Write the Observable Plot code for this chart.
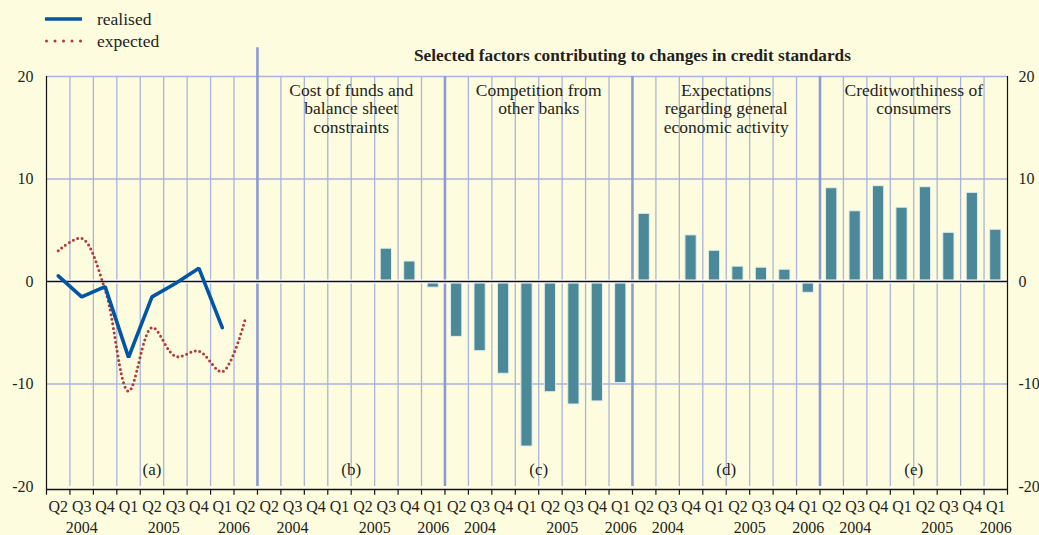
<!DOCTYPE html>
<html><head><meta charset="utf-8">
<script src="https://cdn.jsdelivr.net/npm/d3@7"></script>
<script src="https://cdn.jsdelivr.net/npm/@observablehq/plot@0.6"></script>
<style>
body{margin:0;background:#fefcdf;font-family:"Liberation Serif","Times New Roman",serif;}
#wrap{position:relative;width:1039px;height:535px;overflow:hidden;}
#legend{position:absolute;left:45px;top:8px;font-size:17.5px;color:#231f20;z-index:2;}
.row{display:flex;align-items:center;height:22px;}
.row svg{margin-right:15px;display:block;}
</style></head><body>
<div id="wrap"><div id="legend"></div><div id="chart"></div></div>
<script>
// ---- data ----
const panelAQuarters = ["Q2","Q3","Q4","Q1","Q2","Q3","Q4","Q1","Q2"];
const panelAYears    = [2004,2004,2004,2005,2005,2005,2005,2006,2006];
const barQuarters    = ["Q2","Q3","Q4","Q1","Q2","Q3","Q4","Q1"];
const barYears       = [2004,2004,2004,2005,2005,2005,2005,2006];

const realised = [0.55,-1.5,-0.5,-7.4,-1.5,-0.2,1.3,-4.5];
const expected = [3.0,4.2,-0.8,-10.7,-4.5,-7.3,-6.8,-8.8,-3.5];

const costOfFunds      = [0,0,0.1,0,0,3.2,1.95,-0.6];
const competition      = [-5.4,-6.8,-9.0,-16.1,-10.8,-12.0,-11.7,-9.9];
const expectations     = [6.6,0.05,4.5,3.0,1.45,1.35,1.15,-1.1];
const creditworthiness = [9.1,6.85,9.3,7.2,9.2,4.75,8.65,5.05];

const panelTitles = [
  "Cost of funds and\nbalance sheet\nconstraints",
  "Competition from\nother banks",
  "Expectations\nregarding general\neconomic activity",
  "Creditworthiness of\nconsumers"
];
const panelLetters = ["(a)","(b)","(c)","(d)","(e)"];
const yTicks = [-20,-10,0,10,20];
const chartTitle = "Selected factors contributing to changes in credit standards";
const seriesNames = ["realised","expected"];

// ---- structure ----
const barSeries = [costOfFunds, competition, expectations, creditworthiness];
const nA = panelAQuarters.length, nB = barQuarters.length;
const offsets = [0, ...barSeries.map((_, k) => nA + nB * k)];
const total = nA + nB * barSeries.length;

const quarterItems = [
  ...panelAQuarters.map((q, i) => ({x: i + 0.5, label: q, year: panelAYears[i], panel: 0})),
  ...barSeries.flatMap((_, k) => barQuarters.map((q, i) => ({x: offsets[k+1] + i + 0.5, label: q, year: barYears[i], panel: k+1})))
];
const yearItems = d3.rollups(quarterItems, v => d3.mean(v, d => d.x), d => d.panel, d => d.year)
  .flatMap(([p, ys]) => ys.map(([year, x]) => ({x, label: String(year)})));

const bars = barSeries.flatMap((vals, k) => vals.map((v, i) => ({x: offsets[k+1] + i, v}))).filter(d => d.v !== 0);
const realisedData = realised.map((v, i) => ({x: i + 0.5, v}));
const expectedData = expected.map((v, i) => ({x: i + 0.5, v}));

const separators = offsets.slice(1);
const gridX = d3.range(1, total).filter(i => !separators.includes(i));
const boundaries = d3.range(0, total + 1);
const panelCenters = [nA / 2, ...barSeries.map((_, k) => offsets[k+1] + nB / 2)];
const titleItems = panelTitles.map((t, k) => ({x: panelCenters[k+1], t}));
const letterItems = panelLetters.map((t, k) => ({x: panelCenters[k], t}));
const barGroupCenter = (offsets[1] + total) / 2;

const textColor = "#231f20";
const grid = "#a9b4dc";

const chart = Plot.plot({
  width: 1039, height: 535,
  marginLeft: 46, marginRight: 32, marginTop: 76, marginBottom: 49,
  x: {domain: [0, total], axis: null},
  y: {domain: [-20, 20], axis: null},
  style: {fontFamily: "'Liberation Serif', 'Times New Roman', serif", fontSize: "16px", background: "transparent", color: textColor, overflow: "visible"},
  marks: [
    Plot.ruleY([-10, 10, 20], {stroke: grid, strokeWidth: 1.5}),
    Plot.ruleX(gridX, {stroke: grid, strokeWidth: 1.3}),
    Plot.ruleX(separators, {x: d => d, y1: -20, y2: d => d === separators[0] ? 22.8 : 20, stroke: "#8c9bd3", strokeWidth: 2.6}),
    Plot.rect(bars, {x1: d => d.x + 0.26, x2: d => d.x + 0.74, y1: 0, y2: "v", fill: "#4b8898", stroke: "#e4edf0", strokeWidth: 1}),
    Plot.ruleY([0], {stroke: "white", strokeWidth: 4}),
    Plot.ruleY([0], {stroke: "#111", strokeWidth: 1.5}),
    Plot.ruleX([0], {y1: -20.3, y2: 20, stroke: "#111", strokeWidth: 1.2}),
    Plot.ruleX([total], {y1: -20.3, y2: 20, stroke: "#111", strokeWidth: 1.2}),
    Plot.ruleY([-20], {dy: 3, stroke: "#111", strokeWidth: 1.3}),
    Plot.ruleX(boundaries, {y1: -20.3, y2: -20.85, stroke: "#111", strokeWidth: 1.2}),
    Plot.line(expectedData, {x: "x", y: "v", curve: "catmull-rom", stroke: "#b03a3a", strokeWidth: 3, strokeDasharray: "0 4.6", strokeLinecap: "round"}),
    Plot.line(realisedData, {x: "x", y: "v", stroke: "#0055a5", strokeWidth: 3.6, strokeLinejoin: "miter"}),
    Plot.text(yTicks, {x: 0, y: d => d, text: d => String(d), textAnchor: "end", dx: -13, fill: textColor, fontSize: 16}),
    Plot.text(yTicks, {x: total, y: d => d, text: d => String(d), textAnchor: "start", dx: 11, fill: textColor, fontSize: 16}),
    Plot.text(quarterItems, {x: "x", y: -20, text: "label", dy: 20, fill: textColor, fontSize: 16}),
    Plot.text(yearItems, {x: "x", y: -20, text: "label", dy: 41, fill: textColor, fontSize: 16}),
    Plot.text(letterItems, {x: "x", y: -20, text: "t", dy: -17, fill: textColor, fontSize: 17}),
    Plot.text(titleItems, {x: "x", y: 20, text: "t", lineAnchor: "top", dy: 6.5, lineHeight: 1.05, fill: textColor, fontSize: 17.5}),
    Plot.text([chartTitle], {x: barGroupCenter, y: 20, text: d => d, dy: -21, fontWeight: "bold", fill: textColor, fontSize: 17.3})
  ]
});
document.getElementById("chart").appendChild(chart);

// legend
const legend = document.getElementById("legend");
const swatches = [
  `<svg width="37" height="10"><line x1="0" x2="37" y1="5" y2="5" stroke="#0055a5" stroke-width="3.6"/></svg>`,
  `<svg width="37" height="10"><line x1="1.5" x2="37" y1="5" y2="5" stroke="#b03a3a" stroke-width="3" stroke-dasharray="0 8.5" stroke-linecap="round"/></svg>`
];
seriesNames.forEach((name, i) => {
  const row = document.createElement("div");
  row.className = "row";
  row.innerHTML = swatches[i] + `<span>${name}</span>`;
  legend.appendChild(row);
});
</script>
</body></html>
